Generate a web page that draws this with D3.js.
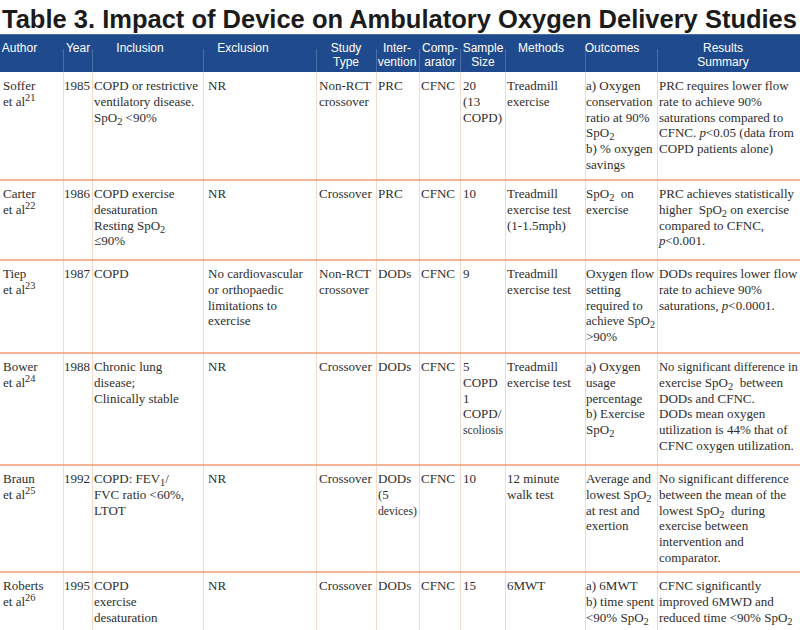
<!DOCTYPE html>
<html>
<head>
<meta charset="utf-8">
<script src="https://cdn.jsdelivr.net/npm/d3@7"></script>
<style>
  body { margin: 0; background: #fff; }
  svg { display: block; }
</style>
</head>
<body>
<svg width="800" height="630"></svg>
<script>
// ---- data ----
var title = "Table 3. Impact of Device on Ambulatory Oxygen Delivery Studies";
var headers = [["Author"], ["Year"], ["Inclusion"], ["Exclusion"], ["Study", "Type"], ["Inter-", "vention"],
  ["Comp-", "arator"], ["Sample", "Size"], ["Methods"], ["Outcomes"], ["Results", "Summary"]];

// cell text, one line per item; ^{} = superscript, _{} = subscript, *..* = italic
var authors = [["Soffer", "et al^{21}"], ["Carter", "et al^{22}"], ["Tiep", "et al^{23}"], ["Bower", "et al^{24}"],
  ["Braun", "et al^{25}"], ["Roberts", "et al^{26}"]];
var years = [["1985"], ["1986"], ["1987"], ["1988"], ["1992"], ["1995"]];
var inclusion = [
  ["COPD or restrictive", "ventilatory disease.", "SpO_{2} <90%"],
  ["COPD exercise", "desaturation", "Resting SpO_{2}", "≤90%"],
  ["COPD"],
  ["Chronic lung", "disease;", "Clinically stable"],
  ["COPD: FEV_{1}/", "FVC ratio <60%,", "LTOT"],
  ["COPD", "exercise", "desaturation"]];
var exclusion = [["NR"], ["NR"], ["No cardiovascular", "or orthopaedic", "limitations to", "exercise"], ["NR"], ["NR"], ["NR"]];
var studyType = [["Non-RCT", "crossover"], ["Crossover"], ["Non-RCT", "crossover"], ["Crossover"], ["Crossover"], ["Crossover"]];
var intervention = [["PRC"], ["PRC"], ["DODs"], ["DODs"], ["DODs", "(5", "devices)"], ["DODs"]];
var comparator = [["CFNC"], ["CFNC"], ["CFNC"], ["CFNC"], ["CFNC"], ["CFNC"]];
var sampleSize = [["20", "(13", "COPD)"], ["10"], ["9"], ["5", "COPD", "1", "COPD/", "scoliosis"], ["10"], ["15"]];
var methods = [["Treadmill", "exercise"], ["Treadmill", "exercise test", "(1-1.5mph)"], ["Treadmill", "exercise test"],
  ["Treadmill", "exercise test"], ["12 minute", "walk test"], ["6MWT"]];
var outcomes = [
  ["a) Oxygen", "conservation", "ratio at 90%", "SpO_{2}", "b) % oxygen", "savings"],
  ["SpO_{2}  on", "exercise"],
  ["Oxygen flow", "setting", "required to", "achieve SpO_{2}", ">90%"],
  ["a) Oxygen", "usage", "percentage", "b) Exercise", "SpO_{2}"],
  ["Average and", "lowest SpO_{2}", "at rest and", "exertion"],
  ["a) 6MWT", "b) time spent", "<90% SpO_{2}"]];
var results = [
  ["PRC requires lower flow", "rate to achieve 90%", "saturations compared to", "CFNC. *p*<0.05 (data from", "COPD patients alone)"],
  ["PRC achieves statistically", "higher  SpO_{2} on exercise", "compared to CFNC,", "*p*<0.001."],
  ["DODs requires lower flow", "rate to achieve 90%", "saturations, *p*<0.0001."],
  ["No significant difference in", "exercise SpO_{2}  between", "DODs and CFNC.", "DODs mean oxygen", "utilization is 44% that of", "CFNC oxygen utilization."],
  ["No significant difference", "between the mean of the", "lowest SpO_{2}  during", "exercise between", "intervention and", "comparator."],
  ["CFNC significantly", "improved 6MWD and", "reduced time <90% SpO_{2}"]];

var columns = [authors, years, inclusion, exclusion, studyType, intervention, comparator, sampleSize, methods, outcomes, results];

// ---- layout ----
var width = 800, height = 630;
var colEdges = [0, 63, 92, 203, 316, 376, 419, 460, 505, 585, 657, 800];
var textPad = [3, 1, 2, 5, 3, 2, 2, 3, 2, 1, 2];
var headerMid = [19.5, 78, 140, 243, 346, 397, 440, 483, 541, 612, 723];
var rowEdges = [72, 180, 260, 353, 465, 572, 645];
var headTop = 34, lineH = 15.8, bodySize = 13;

var xCol = d3.scaleOrdinal().domain(d3.range(columns.length)).range(colEdges.slice(0, -1));
var yRow = d3.scaleOrdinal().domain(d3.range(authors.length)).range(rowEdges.slice(0, -1));

var svg = d3.select("svg");

// title
var t = svg.append("text")
  .attr("x", 2).attr("y", 28)
  .attr("font-family", "Liberation Sans, Arial, sans-serif")
  .attr("font-weight", "bold")
  .attr("font-size", 29)
  .attr("fill", "#1b1b1b")
  .text(title);
var tl = t.node().getComputedTextLength();
t.attr("font-size", 29 * 795 / tl);

// header band
svg.append("rect").attr("x", 0).attr("y", headTop).attr("width", width).attr("height", rowEdges[0] - headTop)
  .attr("fill", "#1f4a8d");
svg.append("line").attr("x1", 0).attr("x2", width).attr("y1", headTop + 0.5).attr("y2", headTop + 0.5)
  .attr("stroke", "#4a6fa8").attr("stroke-width", 1);
svg.selectAll("line.hdiv").data(colEdges.slice(1, -1)).enter().append("line")
  .attr("class", "hdiv")
  .attr("x1", d => d + 0.5).attr("x2", d => d + 0.5)
  .attr("y1", 49).attr("y2", rowEdges[0])
  .attr("stroke", "#4c6ea6").attr("stroke-width", 1);

headers.forEach(function (h, i) {
  var ht = svg.append("text")
    .attr("x", headerMid[i]).attr("y", 52)
    .attr("text-anchor", "middle")
    .attr("font-family", "Liberation Sans, Arial, sans-serif")
    .attr("font-size", 12)
    .attr("fill", "#ffffff");
  h.forEach(function (line, k) {
    ht.append("tspan").attr("x", headerMid[i]).attr("dy", k === 0 ? 0 : 14).text(line);
  });
});

// body grid
svg.selectAll("line.vdiv").data(colEdges.slice(1, -1)).enter().append("line")
  .attr("class", "vdiv")
  .attr("x1", d => d + 0.5).attr("x2", d => d + 0.5)
  .attr("y1", rowEdges[0]).attr("y2", height)
  .attr("stroke", "#f7d9ca").attr("stroke-width", 1);
svg.selectAll("line.hsep").data(d3.range(1, authors.length)).enter().append("line")
  .attr("class", "hsep")
  .attr("x1", 0).attr("x2", width)
  .attr("y1", d => yRow(d)).attr("y2", d => yRow(d))
  .attr("stroke", "#ef9d74").attr("stroke-width", 1.6);

// rich text: sup / sub / italic (sizes relative to the line's font size)
function rich(sel, str, fs) {
  var parts = str.split(/(\^\{[^}]*\}|_\{[^}]*\}|\*[^*]+\*)/).filter(s => s);
  var shift = 0;
  parts.forEach(function (p) {
    var txt = p, target = 0, size = null, italic = false;
    if (p.indexOf("^{") === 0) { txt = p.slice(2, -1); target = -5; size = fs * 0.8; }
    else if (p.indexOf("_{") === 0) { txt = p.slice(2, -1); target = 3; size = fs * 0.8; }
    else if (p[0] === "*") { txt = p.slice(1, -1); italic = true; }
    var ts = sel.append("tspan").text(txt);
    if (target !== shift) ts.attr("dy", target - shift);
    shift = target;
    if (size) ts.attr("font-size", size);
    if (italic) ts.attr("font-style", "italic");
  });
}

columns.forEach(function (col, c) {
  col.forEach(function (cell, r) {
    cell.forEach(function (line, k) {
      var x0 = xCol(c) + textPad[c];
      var tx = svg.append("text")
        .attr("x", x0)
        .attr("y", yRow(r) + 18 + k * lineH)
        .attr("font-family", "Liberation Serif, Times New Roman, serif")
        .attr("font-size", bodySize)
        .attr("fill", "#2e2e2e")
        .attr("xml:space", "preserve");
      rich(tx, line, bodySize);
      // shrink a line that would run past the cell edge
      var room = colEdges[c + 1] - x0 - 2;
      var w = tx.node().getComputedTextLength();
      if (w > room) {
        var fs = bodySize * room / w;
        tx.text(null).attr("font-size", fs);
        rich(tx, line, fs);
      }
    });
  });
});
</script>
</body>
</html>
